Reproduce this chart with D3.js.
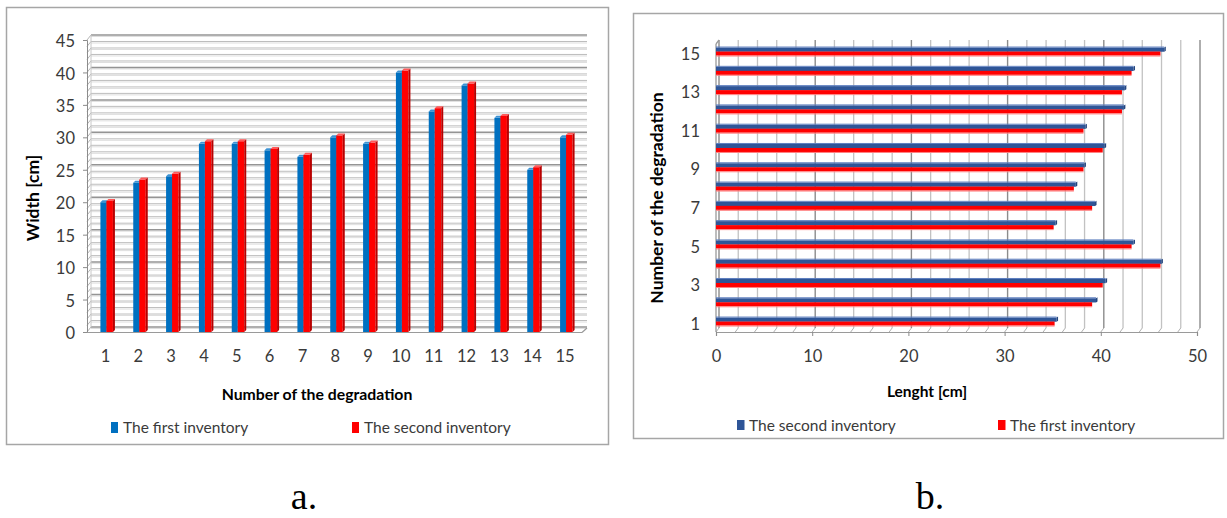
<!DOCTYPE html>
<html><head><meta charset="utf-8">
<script src="https://cdn.jsdelivr.net/npm/d3@7"></script>
<style>body{margin:0;background:#fff} svg{display:block}</style>
</head><body>
<svg id="fig" width="1227" height="518"></svg>
<script>
// Degradation numbers and the two inventories
const degradations = d3.range(1, 16);
const widthFirst  = [20, 23, 24, 29, 29, 28, 27, 30, 29, 40, 34, 38, 33, 25, 30];
const widthSecond = [20.2, 23.5, 24.4, 29.4, 29.4, 28.2, 27.3, 30.3, 29.2, 40.3, 34.5, 38.3, 33.3, 25.4, 30.4];
const lengthSecond = [35.4, 39.5, 40.5, 46.3, 43.4, 35.3, 39.4, 37.4, 38.3, 40.4, 38.4, 42.4, 42.5, 43.4, 46.6];
const lengthFirst  = [35.2, 39.1, 40.2, 46.2, 43.2, 35.1, 39.1, 37.2, 38.2, 40.2, 38.2, 42.2, 42.2, 43.2, 46.2];
const widthTicks = d3.range(0, 46, 5);
const lengthTicks = d3.range(0, 51, 10);
const lengthCatTicks = [1, 3, 5, 7, 9, 11, 13, 15];

const FONT = "Lato, 'Open Sans', sans-serif";
const TICK = "#3a3a3a";
const svg = d3.select("#fig");

// ---------- Panel a: width, 3D clustered columns ----------
const pa = svg.append("g");
pa.append("rect").attr("x", 6.5).attr("y", 7.5).attr("width", 602).attr("height", 437)
  .attr("fill", "#fff").attr("stroke", "#a6a6a6").attr("stroke-width", 1.5);

const yA = d3.scaleLinear().domain([0, 45]).range([332, 40]);
const xA = d3.scaleBand().domain(degradations).range([89, 581.5]);
const depth = 4;

// back wall gridlines (every unit, darker every five) with the side wall slant
d3.range(0, 46).forEach(v => {
  const yy = yA(v) - depth - 1;
  const major = v % 5 === 0;
  pa.append("line").attr("x1", 91).attr("x2", 587).attr("y1", yy + 1.5).attr("y2", yy + 1.5)
    .attr("stroke", "#dedede").attr("stroke-width", 1);
  pa.append("line").attr("x1", 91).attr("x2", 587).attr("y1", yy).attr("y2", yy)
    .attr("stroke", major ? "#949494" : "#bdbdbd").attr("stroke-width", major ? 1.5 : 1);
  pa.append("line").attr("x1", 87).attr("x2", 91).attr("y1", yA(v)).attr("y2", yy)
    .attr("stroke", "#b5b5b5").attr("stroke-width", 1);
});
pa.append("line").attr("x1", 91).attr("x2", 91).attr("y1", yA(45) - depth - 1).attr("y2", yA(0) - depth - 1)
  .attr("stroke", "#c8c8c8");

// left axis and floor edge
const axA = pa.append("g").attr("transform", "translate(87,0)")
  .call(d3.axisLeft(yA).tickValues(widthTicks).tickSize(4).tickPadding(8));
axA.select(".domain").attr("stroke", "#8c8c8c");
axA.selectAll(".tick line").attr("stroke", "#8c8c8c");
axA.selectAll(".tick text").attr("font-family", FONT).attr("font-size", 16.5).attr("fill", TICK)
  .attr("dy", "0.4em");
pa.append("line").attr("x1", 87).attr("x2", 582).attr("y1", yA(0) + 0.5).attr("y2", yA(0) + 0.5)
  .attr("stroke", "#9a9a9a").attr("stroke-width", 1.2);
pa.append("line").attr("x1", 582).attr("x2", 587).attr("y1", yA(0) + 0.5).attr("y2", yA(0) - depth)
  .attr("stroke", "#9a9a9a").attr("stroke-width", 1.2);

// category labels
const axB = pa.append("g").attr("transform", `translate(0,${yA(0)})`)
  .call(d3.axisBottom(xA).tickSize(0).tickPadding(18));
axB.select(".domain").remove();
axB.selectAll(".tick text").attr("font-family", FONT).attr("font-size", 16.5).attr("fill", TICK);

// bars: front face, top face, and right side face
function column(g, x0, w, v, front, top, side) {
  const y1 = yA(v), y0 = yA(0);
  g.append("rect").attr("x", x0).attr("y", y1).attr("width", w).attr("height", y0 - y1).attr("fill", front);
  g.append("polygon").attr("points", [[x0, y1], [x0 + 2, y1 - 2], [x0 + w + 2, y1 - 2], [x0 + w, y1]].join(" "))
    .attr("fill", top);
  g.append("polygon").attr("points", [[x0 + w, y1], [x0 + w + 2, y1 - 2], [x0 + w + 2, y0 - 2], [x0 + w, y0]].join(" "))
    .attr("fill", side);
}
const barsA = pa.append("g");
degradations.forEach((d, i) => {
  const cx = xA(d) + xA.bandwidth() / 2 + 1;
  column(barsA, cx - 6, 6, widthFirst[i], "#0070c0", "#3d93d4", "#005a9c");
  column(barsA, cx, 6.5, widthSecond[i], "#ff0000", "#ff5a5a", "#b80000");
});

// titles
pa.append("text").attr("transform", `translate(39,${(yA(0) + yA(45)) / 2 + 12}) rotate(-90)`)
  .attr("text-anchor", "middle").attr("font-family", FONT).attr("font-weight", "bold")
  .attr("font-size", 17.5).text("Width [cm]");
pa.append("text").attr("x", 317).attr("y", 400).attr("text-anchor", "middle")
  .attr("font-family", FONT).attr("font-weight", "bold").attr("font-size", 15.8)
  .text("Number of the degradation");

// legend
const legA = [["The first inventory", "#0070c0", 111], ["The second inventory", "#ff0000", 352]];
legA.forEach(([t, c, lx]) => {
  pa.append("rect").attr("x", lx).attr("y", 422).attr("width", 7).attr("height", 11).attr("fill", c);
  pa.append("text").attr("x", lx + 12).attr("y", 433).attr("font-family", FONT).attr("font-size", 15.5)
    .attr("fill", TICK).text(t);
});

// ---------- Panel b: length, 3D clustered bars ----------
const pb = svg.append("g");
pb.append("rect").attr("x", 633.5).attr("y", 13.5).attr("width", 590).attr("height", 425)
  .attr("fill", "#fff").attr("stroke", "#a6a6a6").attr("stroke-width", 1.5);

const xB = d3.scaleLinear().domain([0, 50]).range([716, 1197]);
const yB = d3.scaleBand().domain(degradations).range([332.7, 43.4]);

// back wall gridlines every 2 units, darker every 10
d3.range(0, 51, 2).forEach(v => {
  const gx = xB(v) + 3;
  const major = v % 10 === 0;
  pb.append("line").attr("x1", gx).attr("x2", gx).attr("y1", 40).attr("y2", 328)
    .attr("stroke", major ? "#8c8c8c" : "#c2c2c2").attr("stroke-width", major ? 1.4 : 1.3);
  pb.append("line").attr("x1", gx).attr("x2", xB(v)).attr("y1", 328).attr("y2", 332)
    .attr("stroke", "#b0b0b0").attr("stroke-width", 1);
});

// axes
pb.append("line").attr("x1", 716).attr("x2", 716).attr("y1", 332).attr("y2", 44)
  .attr("stroke", "#9a9a9a").attr("stroke-width", 1.3);
pb.append("line").attr("x1", 716).attr("x2", 719).attr("y1", 44).attr("y2", 40)
  .attr("stroke", "#9a9a9a").attr("stroke-width", 1.3);
const axC = pb.append("g").attr("transform", "translate(0,332)")
  .call(d3.axisBottom(xB).tickValues(lengthTicks).tickSize(4).tickPadding(14));
axC.select(".domain").attr("stroke", "#9a9a9a").attr("stroke-width", 1.2);
axC.selectAll(".tick line").attr("stroke", "#8c8c8c");
axC.selectAll(".tick text").attr("font-family", FONT).attr("font-size", 16.5).attr("fill", TICK);

const axD = pb.append("g").attr("transform", "translate(716,0)")
  .call(d3.axisLeft(yB).tickValues(lengthCatTicks).tickSize(0).tickPadding(16));
axD.select(".domain").remove();
axD.selectAll(".tick text").attr("font-family", FONT).attr("font-size", 16.5).attr("fill", TICK)
  .attr("dy", "0.4em");

// bars
const barsB = pb.append("g");
degradations.forEach((d, i) => {
  const c = yB(d) + yB.bandwidth() / 2;
  const xb = xB(lengthSecond[i]), xr = xB(lengthFirst[i]);
  barsB.append("rect").attr("x", 716).attr("y", c - 5.5).attr("width", xb - 716).attr("height", 4.2).attr("fill", "#2f5597");
  barsB.append("rect").attr("x", 716).attr("y", c - 6.5).attr("width", xb - 716).attr("height", 1).attr("fill", "#5e7fbf");
  barsB.append("polygon").attr("points", [[xb, c - 5.5], [xb + 1.5, c - 6.5], [xb + 1.5, c - 2.3], [xb, c - 1.3]].join(" "))
    .attr("fill", "#24467f");
  barsB.append("rect").attr("x", 716).attr("y", c - 1.5).attr("width", xr - 716).attr("height", 4).attr("fill", "#ff0000");
  barsB.append("rect").attr("x", 716).attr("y", c + 2.5).attr("width", xr - 716).attr("height", 1).attr("fill", "#ff8080");
});

// titles
pb.append("text").attr("transform", `translate(663,${(yB.range()[0] + yB.range()[1]) / 2 + 10}) rotate(-90)`)
  .attr("text-anchor", "middle").attr("font-family", FONT).attr("font-weight", "bold")
  .attr("font-size", 17.5).text("Number of the degradation");
pb.append("text").attr("x", 927).attr("y", 397).attr("text-anchor", "middle")
  .attr("font-family", FONT).attr("font-weight", "bold").attr("font-size", 15.5).text("Lenght [cm]");

const legB = [["The second inventory", "#2f5597", 737], ["The first inventory", "#ff0000", 998]];
legB.forEach(([t, c, lx]) => {
  pb.append("rect").attr("x", lx).attr("y", 420).attr("width", 7.5).attr("height", 10).attr("fill", c);
  pb.append("text").attr("x", lx + 12).attr("y", 431).attr("font-family", FONT).attr("font-size", 15.5)
    .attr("fill", TICK).text(t);
});

// panel letters
svg.append("text").attr("x", 304).attr("y", 509).attr("text-anchor", "middle")
  .attr("font-family", "'Liberation Serif', 'Times New Roman', serif").attr("font-size", 38).text("a.");
svg.append("text").attr("x", 930).attr("y", 509).attr("text-anchor", "middle")
  .attr("font-family", "'Liberation Serif', 'Times New Roman', serif").attr("font-size", 38).text("b.");
</script>
</body></html>
